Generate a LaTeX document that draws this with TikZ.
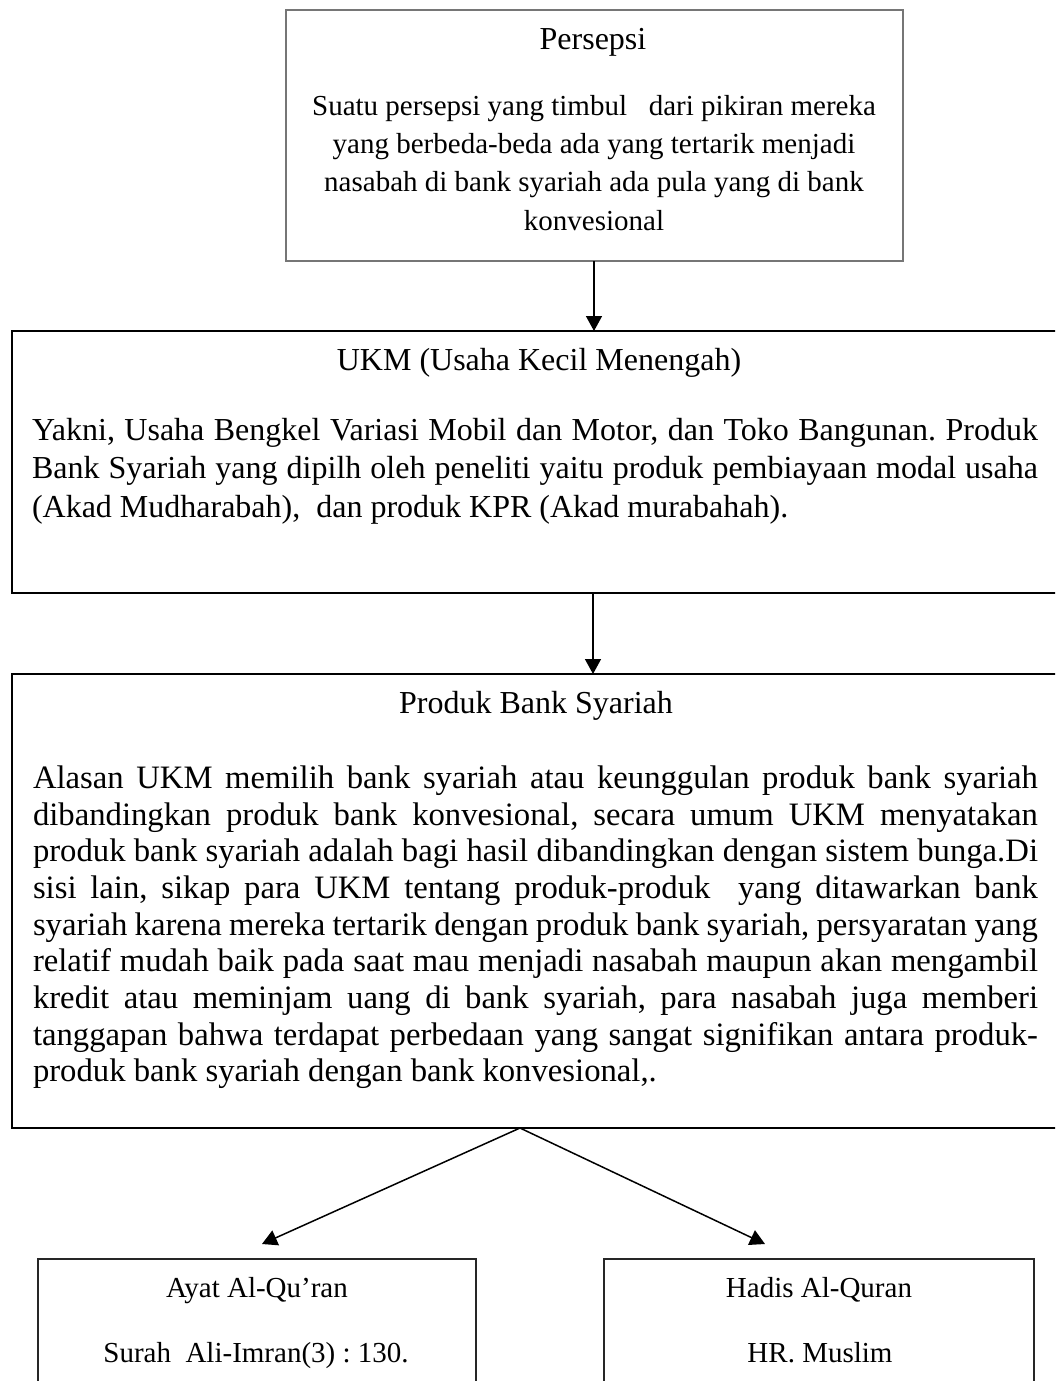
\documentclass[tikz,border=0pt]{standalone}
\usepackage{fontspec}
\setmainfont{Liberation Serif}
\usetikzlibrary{arrows.meta}
\definecolor{boxgray}{RGB}{118,118,118}
\frenchspacing
\begin{document}
\begin{tikzpicture}[x=1pt,y=-1pt,
  greybox/.style={draw=boxgray, line width=1.6pt, inner sep=0pt, outer sep=0pt, anchor=north west},
  blackbox/.style={draw=black, line width=2.4pt, inner sep=0pt, outer sep=0pt, anchor=north west},
  thinbox/.style={draw=black!85, line width=1.6pt, inner sep=0pt, outer sep=0pt, anchor=north west},
  txt/.style={inner sep=0pt, outer sep=0pt, anchor=base, font=\fontsize{29}{35}\selectfont\frenchspacing},
  ttl/.style={txt, font=\fontsize{32}{38}\selectfont\frenchspacing},
  ltxt/.style={txt, anchor=base west, font=\fontsize{32}{38}\selectfont\frenchspacing},
  lbig/.style={txt, anchor=base west, font=\fontsize{32.7}{38}\selectfont\frenchspacing},
  arr/.style={line width=1.5pt, -{Triangle[width=16pt,length=15pt]}}]
\useasboundingbox (0,0) rectangle (1055,1381);
\clip (0,0) rectangle (1055,1381);
\fill[white] (0,0) rectangle (1055,1381);
% boxes
\node[greybox, minimum width=617pt, minimum height=251pt] (b1) at (286,10) {};
\node[blackbox, minimum width=1050pt, minimum height=262pt] (b2) at (12,331) {};
\node[blackbox, minimum width=1050pt, minimum height=454pt] (b3) at (12,674) {};
\node[thinbox, minimum width=438pt, minimum height=150pt] (b4) at (38,1259) {};
\node[thinbox, minimum width=430pt, minimum height=150pt] (b5) at (604,1259) {};
% box 1 text
\node[ttl] (p0) at (593,49) {Persepsi};
\node[txt] (p1) at (594,115) {Suatu persepsi yang timbul~~ dari pikiran mereka};
\node[txt] (p2) at (594,153.3) {yang berbeda-beda ada yang tertarik menjadi};
\node[txt] (p3) at (594,191.6) {nasabah di bank syariah ada pula yang di bank};
\node[txt] (p4) at (594,230) {konvesional};
% box 2 text
\node[ttl] (u0) at (539,370) {UKM (Usaha Kecil Menengah)};
\node[ltxt] (u1) at (32,440) {\makebox[1006pt][s]{Yakni, Usaha Bengkel Variasi Mobil dan Motor, dan Toko Bangunan. Produk}};
\node[ltxt] (u2) at (32,478.5) {\makebox[1006pt][s]{Bank Syariah yang dipilh oleh peneliti yaitu produk pembiayaan modal usaha}};
\node[ltxt] (u3) at (32,517) {(Akad Mudharabah),~ dan produk KPR (Akad murabahah).};
% box 3 text
\node[ttl] (s0) at (536,713) {Produk Bank Syariah};
\node[lbig] (s1) at (33,788.3) {\makebox[1005pt][s]{Alasan UKM memilih bank syariah atau keunggulan produk bank syariah}};
\node[lbig] (s2) at (33,825) {\makebox[1005pt][s]{dibandingkan produk bank konvesional, secara umum UKM menyatakan}};
\node[lbig] (s3) at (33,861.7) {\makebox[1005pt][s]{produk bank syariah adalah bagi hasil dibandingkan dengan sistem bunga.Di}};
\node[lbig] (s4) at (33,898.4) {\makebox[1005pt][s]{sisi lain, sikap para UKM tentang produk-produk~ yang ditawarkan bank}};
\node[lbig] (s5) at (33,935.1) {\makebox[1005pt][s]{syariah karena mereka tertarik dengan produk bank syariah, persyaratan yang}};
\node[lbig] (s6) at (33,971.8) {\makebox[1005pt][s]{relatif mudah baik pada saat mau menjadi nasabah maupun akan mengambil}};
\node[lbig] (s7) at (33,1008.5) {\makebox[1005pt][s]{kredit atau meminjam uang di bank syariah, para nasabah juga memberi}};
\node[lbig] (s8) at (33,1045.2) {\makebox[1005pt][s]{tanggapan bahwa terdapat perbedaan yang sangat signifikan antara produk-}};
\node[lbig] (s9) at (33,1081.9) {produk bank syariah dengan bank konvesional,.};
% small boxes text
\node[txt] (a0) at (257,1297) {Ayat Al-Qu’ran};
\node[txt] (a1) at (256,1362) {Surah~ Ali-Imran(3) : 130.};
\node[txt] (h0) at (819,1297) {Hadis Al-Quran};
\node[txt] (h1) at (820,1362) {HR. Muslim};
% connectors
\coordinate (c1) at (594,261);
\coordinate (c2) at (594,331);
\coordinate (c3) at (593,593);
\coordinate (c4) at (593,674);
\coordinate (apex) at (520,1128);
\coordinate (tipL) at (262,1244);
\coordinate (tipR) at (765,1244);
\draw[arr] (c1) -- (c2);
\draw[arr] (c3) -- (c4);
\draw[arr] (apex) -- (tipL);
\draw[arr] (apex) -- (tipR);
\end{tikzpicture}
\end{document}
